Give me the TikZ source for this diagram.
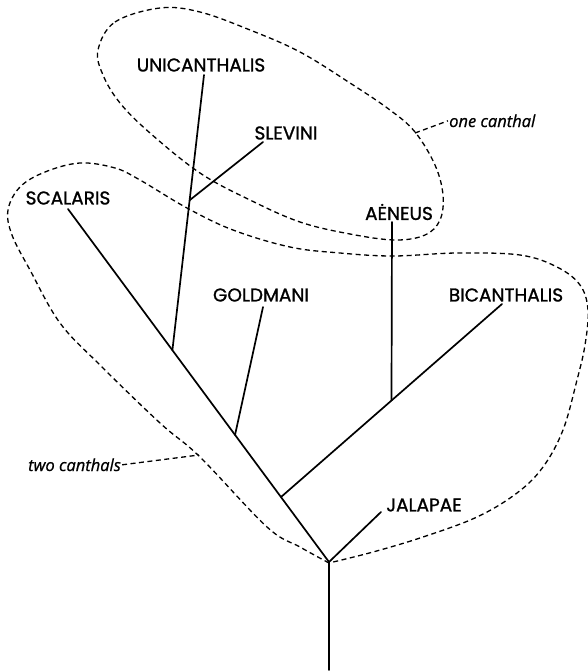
\documentclass[tikz,border=0pt]{standalone}
\usepackage{fontspec}
\newfontfamily\taxfont{Poppins}[FakeBold=1.2]
\newfontfamily\notefont{Open Sans}[FakeBold=0.8]
\usetikzlibrary{calc}
\tikzset{
  branch/.style={line width=1.7pt, line cap=round},
  outline/.style={line width=1.3pt, dash pattern=on 5pt off 3.5pt},
  taxon/.style={font=\taxfont\fontsize{18.5}{18.5}\selectfont, inner sep=0pt},
  note/.style={font=\notefont\itshape\fontsize{16.5}{16.5}\selectfont, inner sep=0pt}
}
\begin{document}
\begin{tikzpicture}[x=1pt,y=-1pt]
\useasboundingbox (0,0) rectangle (588,672);
% tree coordinates
\coordinate (root) at (329,562);
\coordinate (base) at (329,670);
\coordinate (scaltip) at (68,209);
\coordinate (unij) at ($(scaltip)!0.40!(root)$);
\coordinate (unitip) at (204,75);
\coordinate (slevj) at ($(unij)!0.545!(unitip)$);
\coordinate (slevtip) at (263,142);
\coordinate (goldj) at ($(scaltip)!0.64!(root)$);
\coordinate (goldtip) at (263,307);
\coordinate (bicj) at ($(scaltip)!0.816!(root)$);
\coordinate (bictip) at (502,304);
\coordinate (aenj) at ($(bicj)!0.5!(bictip)$);
\coordinate (aentip) at (392,222);
\coordinate (jaltip) at (381,512);
% labels
\node[taxon] (uni) at (201,65) {UNICANTHALIS};
\node[taxon] (slev) at (286,133) {SLEVINI};
\node[taxon] (scal) at (68,198) {SCALARIS};
\node[taxon] (aen) at (399,212) {A\.ENEUS};
\node[taxon] (gold) at (261,295) {GOLDMANI};
\node[taxon] (bic) at (506,295) {BICANTHALIS};
\node[taxon] (jal) at (424,505) {JALAPAE};
\node[note, anchor=base west] (one) at (449,127) {one canthal};
\node[note, anchor=base west] (two) at (28,471) {two canthals};
% outlines
\draw[outline] plot[smooth cycle, tension=0.6] coordinates {
 (98,50) (115,22) (160,8) (200,12) (250,30) (300,52) (350,83) (390,110)
 (415,132) (435,165) (443,195) (440,220) (425,235) (395,240) (350,234)
 (300,222) (250,200) (200,173) (150,133) (120,103) (103,75)};
\draw[outline] plot[smooth, tension=0.6] coordinates {
 (329,563) (300,547) (267,527) (200,457) (160,423) (100,365) (60,323)
 (30,270) (12,235) (8,210) (20,187) (45,172) (80,163) (115,168) (140,180)
 (187,208) (233,230) (290,247) (340,253) (393,256) (457,253) (520,255)
 (557,267) (580,285) (588,310) (585,345) (577,380) (563,430) (543,467)
 (517,493) (477,517) (423,537) (373,552) (329,563)};
% leaders
\coordinate (oneend) at (415,133);
\coordinate (twoend) at (199,455);
\draw[outline] (oneend) -- ([xshift=-1pt]one.west);
\draw[outline] ([xshift=1pt]two.east) -- (twoend);
% tree
\draw[branch] (base) -- (root) -- (scaltip);
\draw[branch] (unij) -- (unitip);
\draw[branch] (slevj) -- (slevtip);
\draw[branch] (goldj) -- (goldtip);
\draw[branch] (bicj) -- (bictip);
\draw[branch] (aenj) -- (aentip);
\draw[branch] (root) -- (jaltip);
\end{tikzpicture}
\end{document}
